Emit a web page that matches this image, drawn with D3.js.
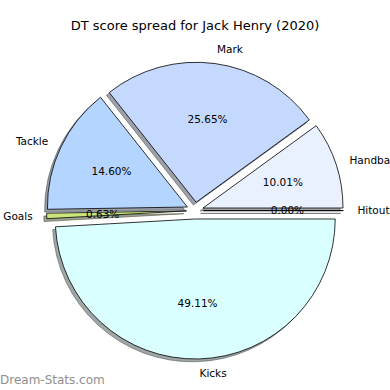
<!DOCTYPE html>
<html>
<head>
<meta charset="utf-8">
<script src="https://d3js.org/d3.v7.min.js"></script>
<style>
  body { margin: 0; background: #fff; }
  text { font-family: "DejaVu Sans", sans-serif; }
</style>
</head>
<body>
<div id="chart"></div>
<script>
// slice data, counter-clockwise from 3 o'clock (matplotlib style)
var labels = ["Hitout", "Handball", "Mark", "Tackle", "Goals", "Kicks"];
var shares = [0.00, 10.01, 25.65, 14.60, 0.63, 49.11];
var colours = ["#e0ecff", "#e9f1ff", "#c5d9ff", "#b4d5ff", "#c9e57c", "#d9ffff"];
var title = "DT score spread for Jack Henry (2020)";

var W = 390, H = 390;
var cx = 195, cy = 210.6, r = 140;
var explode = 0.06 * r;
var shadowOff = 0.02 * r;

var svg = d3.select("#chart").append("svg")
  .attr("width", W).attr("height", H);

var pie = d3.pie().sort(null).value(function(d) { return d; })
  .startAngle(Math.PI / 2).endAngle(Math.PI / 2 - 2 * Math.PI);
var arcs = pie(shares);
var arc = d3.arc().innerRadius(0).outerRadius(r);

function mid(d) { return (d.startAngle + d.endAngle) / 2; }
function apex(d) {
  var a = mid(d);
  return [cx + explode * Math.sin(a), cy - explode * Math.cos(a)];
}
function dark(c) {
  var k = d3.rgb(c);
  return d3.rgb(k.r * 0.3, k.g * 0.3, k.b * 0.3);
}

// shadows underneath all wedges
svg.append("g").selectAll("path").data(arcs).enter().append("path")
  .attr("d", arc)
  .attr("transform", function(d) { var p = apex(d); return "translate(" + (p[0] - shadowOff) + "," + (p[1] + shadowOff) + ")"; })
  .attr("fill", function(d, i) { return dark(colours[i]); })
  .attr("fill-opacity", 0.5)
  .attr("stroke", function(d, i) { return dark(colours[i]); })
  .attr("stroke-opacity", 0.5)
  .attr("stroke-width", 1);

svg.append("g").selectAll("path").data(arcs).enter().append("path")
  .attr("d", arc)
  .attr("transform", function(d) { var p = apex(d); return "translate(" + p[0] + "," + p[1] + ")"; })
  .attr("fill", function(d, i) { return colours[i]; })
  .attr("stroke", "#000")
  .attr("stroke-width", 0.8)
  .attr("stroke-linejoin", "round");

// category labels at 1.1 r
svg.append("g").selectAll("text").data(arcs).enter().append("text")
  .attr("x", function(d) { return apex(d)[0] + 1.1 * r * Math.sin(mid(d)); })
  .attr("y", function(d) { return apex(d)[1] - 1.1 * r * Math.cos(mid(d)); })
  .attr("dy", "0.35em")
  .attr("text-anchor", function(d) { return Math.sin(mid(d)) > 0 ? "start" : "end"; })
  .attr("font-size", "10.5px")
  .attr("fill", "#000")
  .text(function(d, i) { return labels[i]; });

// percentages at 0.6 r
svg.append("g").selectAll("text").data(arcs).enter().append("text")
  .attr("x", function(d) { return apex(d)[0] + 0.6 * r * Math.sin(mid(d)); })
  .attr("y", function(d) { return apex(d)[1] - 0.6 * r * Math.cos(mid(d)); })
  .attr("dy", "0.35em")
  .attr("text-anchor", "middle")
  .attr("font-size", "10.5px")
  .attr("fill", "#000")
  .text(function(d) { return d.data.toFixed(2) + "%"; });

svg.append("text")
  .attr("x", W / 2).attr("y", 30)
  .attr("text-anchor", "middle")
  .attr("font-size", "13px")
  .attr("fill", "#000")
  .text(title);

svg.append("text")
  .attr("x", 0).attr("y", 384)
  .attr("font-size", "12px")
  .attr("fill", "#8f8f8f")
  .text("Dream-Stats.com");
</script>
</body>
</html>
